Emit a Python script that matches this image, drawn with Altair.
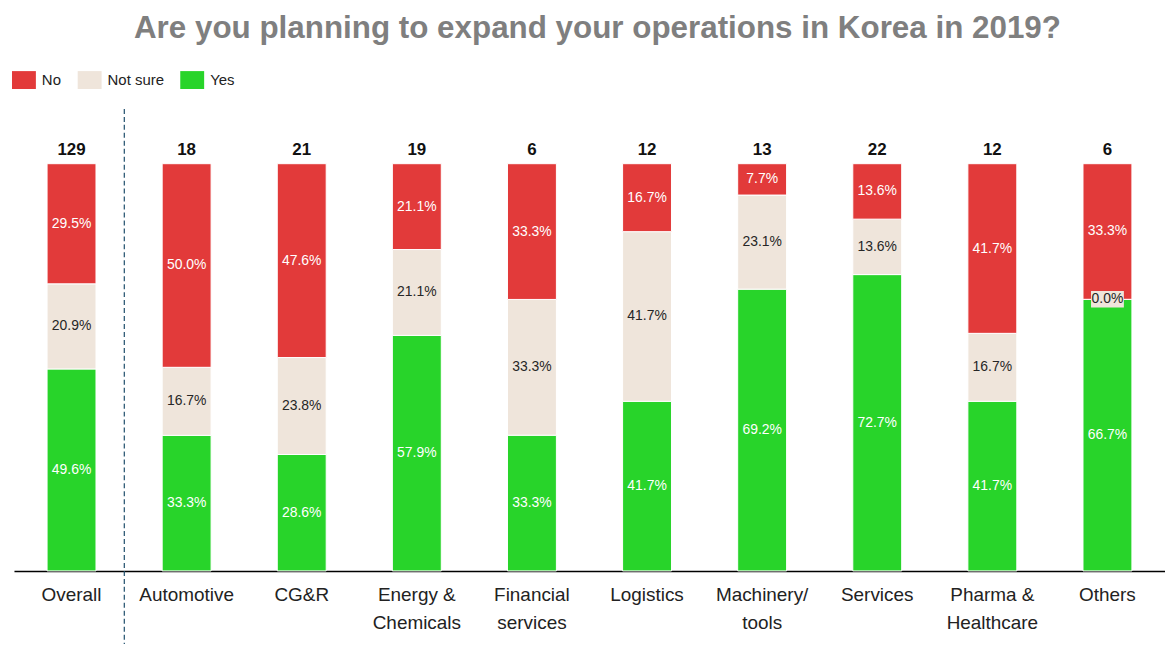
import altair as alt
import pandas as pd

categories = ["Overall", "Automotive", "CG&R", "Energy & Chemicals", "Financial services",
              "Logistics", "Machinery/ tools", "Services", "Pharma & Healthcare", "Others"]
label_lines = [["Overall"], ["Automotive"], ["CG&R"], ["Energy &", "Chemicals"],
               ["Financial", "services"], ["Logistics"], ["Machinery/", "tools"],
               ["Services"], ["Pharma &", "Healthcare"], ["Others"]]
respondents = [129, 18, 21, 19, 6, 12, 13, 22, 12, 6]
no_pct = [29.5, 50.0, 47.6, 21.1, 33.3, 16.7, 7.7, 13.6, 41.7, 33.3]
notsure_pct = [20.9, 16.7, 23.8, 21.1, 33.3, 41.7, 23.1, 13.6, 16.7, 0.0]
yes_pct = [49.6, 33.3, 28.6, 57.9, 33.3, 41.7, 69.2, 72.7, 41.7, 66.7]
answers = ["No", "Not sure", "Yes"]
colors = ["#e23a3a", "#efe5db", "#28d42a"]

FONT = "Liberation Sans, Arial, sans-serif"

rows = []
for i, c in enumerate(categories):
    for ans, vals, order in (("Yes", yes_pct, 0), ("Not sure", notsure_pct, 1), ("No", no_pct, 2)):
        rows.append({"category": c, "answer": ans, "value": vals[i], "ord": order})
df = pd.DataFrame(rows)
counts = pd.DataFrame({"category": categories, "n": respondents})

# multi-line x labels
label_expr = "datum.value"
for c, lines in reversed(list(zip(categories, label_lines))):
    arr = "[" + ",".join("'" + l + "'" for l in lines) + "]"
    label_expr = f"datum.value == '{c}' ? {arr} : " + label_expr

x_enc = alt.X(
    "category:N", sort=categories,
    scale=alt.Scale(paddingInner=0.575, paddingOuter=0.2875),
    axis=alt.Axis(title=None, labelAngle=0, ticks=False, domainColor="#000000", domainWidth=1.5,
                  labelFont=FONT, labelFontSize=19, labelColor="#222222", labelPadding=15,
                  labelLineHeight=28, labelExpr=label_expr, labelOverlap=False, labelBound=False,
                  labelAlign="center"),
)
y_scale = alt.Scale(domain=[0, 1], nice=False)

base = alt.Chart(df).transform_stack(
    stack="value", groupby=["category"], as_=["v0", "v1"], offset="normalize",
    sort=[alt.SortField("ord", order="ascending")]
).transform_calculate(
    mid="(datum.v0 + datum.v1) / 2",
    label="format(datum.value, '.1f') + '%'"
)

bars = base.mark_bar(stroke="white", strokeWidth=1).encode(
    x=x_enc,
    y=alt.Y("v0:Q", scale=y_scale, axis=None),
    y2="v1:Q",
    color=alt.Color("answer:N", scale=alt.Scale(domain=answers, range=colors),
                    legend=alt.Legend(orient="none", legendX=-2, legendY=-96, direction="horizontal",
                                      title=None, symbolType="M-1,-0.75H1V0.75H-1Z", symbolSize=576,
                                      symbolStrokeWidth=0, symbolOpacity=1, labelFont=FONT,
                                      labelFontSize=15, labelColor="#222222", labelOffset=6,
                                      columnPadding=16, padding=0)),
)

zero_box = base.transform_filter(alt.datum.value == 0).mark_point(
    shape="M-1,-0.5H1V0.5H-1Z", size=1089, filled=True, color="#efe5db", opacity=1, strokeWidth=0
).encode(x=x_enc, y=alt.Y("mid:Q", scale=y_scale))

pct_text = base.mark_text(font=FONT, fontSize=14).encode(
    x=x_enc,
    y=alt.Y("mid:Q", scale=y_scale),
    text="label:N",
    color=alt.condition(alt.datum.answer == "Not sure", alt.value("#262626"), alt.value("#ffffff")),
)

count_text = alt.Chart(counts).mark_text(font=FONT, fontSize=17, fontWeight="bold", dy=-14,
                                         color="#111111").encode(
    x=x_enc,
    y=alt.Y(datum=1, scale=y_scale),
    text="n:Q",
)

divider = alt.Chart(counts).transform_filter(alt.datum.category == "Overall").mark_rule(
    strokeDash=[5, 3], color="#1f4e6b", strokeWidth=1.2, xOffset=53
).encode(
    x=alt.X("category:N", sort=categories, bandPosition=0.5),
    y=alt.value(-55), y2=alt.value(490),
)

chart = alt.layer(bars, zero_box, pct_text, count_text, divider).properties(
    width=1156, height=409,
    autosize=alt.AutoSizeParams(type="none"),
    padding={"left": 6, "top": 155, "right": 0, "bottom": 72},
    title=alt.TitleParams(text="Are you planning to expand your operations in Korea in 2019?",
                          font=FONT, fontSize=31.5, fontWeight="bold",
                          color="#7f7f7f", anchor="middle", offset=24, dx=8),
).configure_view(stroke=None)

chart.save("out.html", embed_options={"renderer": "svg", "actions": False})
